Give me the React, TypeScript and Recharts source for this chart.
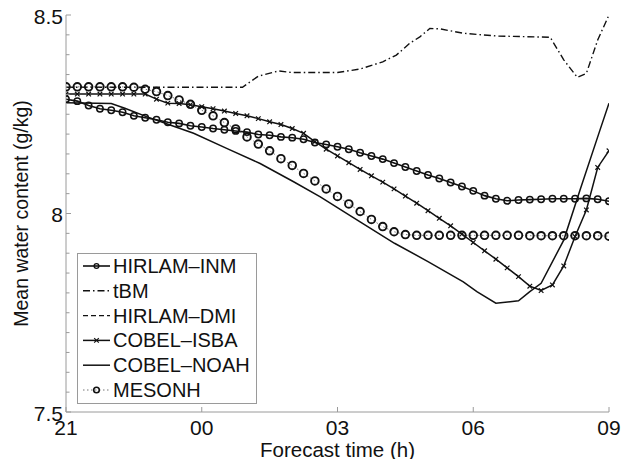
import React from 'react';
import { LineChart, Line, XAxis, YAxis } from 'recharts';

// Hours after 21 UTC, sampled every quarter hour
const quarterHours = [
  0, 0.25, 0.5, 0.75, 1, 1.25, 1.5, 1.75, 2, 2.25, 2.5, 2.75, 3, 3.25, 3.5, 3.75,
  4, 4.25, 4.5, 4.75, 5, 5.25, 5.5, 5.75, 6, 6.25, 6.5, 6.75, 7, 7.25, 7.5, 7.75,
  8, 8.25, 8.5, 8.75, 9, 9.25, 9.5, 9.75, 10, 10.25, 10.5, 10.75, 11, 11.25, 11.5, 11.75, 12,
];

const inmValues = [
  8.288, 8.283, 8.272, 8.264, 8.26, 8.255, 8.246, 8.241, 8.236, 8.23, 8.227, 8.221, 8.218,
  8.214, 8.211, 8.208, 8.205, 8.199, 8.197, 8.193, 8.191, 8.187, 8.179, 8.174, 8.168, 8.162,
  8.153, 8.145, 8.137, 8.127, 8.117, 8.107, 8.097, 8.088, 8.078, 8.068, 8.057, 8.045, 8.037,
  8.032, 8.034, 8.035, 8.036, 8.037, 8.037, 8.037, 8.038, 8.036, 8.031,
];

const isbaValues = [
  8.301, 8.301, 8.301, 8.301, 8.301, 8.301, 8.301, 8.301, 8.288, 8.278, 8.277, 8.274, 8.269,
  8.264, 8.258, 8.252, 8.246, 8.239, 8.231, 8.224, 8.214, 8.202, 8.181, 8.162, 8.145, 8.128,
  8.111, 8.095, 8.079, 8.062, 8.044, 8.026, 8.007, 7.988, 7.969, 7.948, 7.927, 7.906, 7.885,
  7.863, 7.841, 7.817, 7.806, 7.82, 7.868, 7.942, 8.009, 8.116, 8.158,
];

const mesonhValues = [
  8.319, 8.319, 8.319, 8.319, 8.319, 8.319, 8.318, 8.313, 8.307, 8.297, 8.286, 8.275, 8.26,
  8.246, 8.229, 8.213, 8.193, 8.175, 8.158, 8.138, 8.121, 8.101, 8.082, 8.062, 8.043, 8.024,
  8.005, 7.985, 7.967, 7.954, 7.947, 7.945, 7.945, 7.945, 7.945, 7.945, 7.945, 7.945, 7.945,
  7.945, 7.945, 7.944, 7.944, 7.944, 7.944, 7.944, 7.944, 7.944, 7.943,
];

const noahTimes = [0, 1, 1.3, 1.78, 2.3, 2.82, 3.55, 4.29, 5.03, 5.62, 6.5, 7.26, 8, 8.78, 9.08, 9.5, 10, 10.25, 10.5, 11, 11.36, 11.8, 12];
const noahValues = [8.279, 8.277, 8.265, 8.244, 8.223, 8.202, 8.164, 8.126, 8.08, 8.042, 7.979, 7.925, 7.879, 7.828, 7.803, 7.774, 7.78, 7.803, 7.824, 7.933, 8.059, 8.21, 8.278];

const tbmTimes = [0, 1, 2, 3, 3.9, 4.25, 4.7, 5, 6, 6.5, 7, 7.3, 7.6, 7.82, 8.04, 8.27, 8.78, 9.52, 10.7, 11, 11.3, 11.5, 11.75, 12];
const tbmValues = [8.318, 8.318, 8.318, 8.318, 8.318, 8.346, 8.359, 8.355, 8.355, 8.364, 8.382, 8.399, 8.429, 8.445, 8.466, 8.465, 8.454, 8.447, 8.444, 8.387, 8.343, 8.353, 8.437, 8.5];

const xTicks = [0, 3, 6, 9, 12];
const xTickLabels = ['21', '00', '03', '06', '09'];

const yTicks = [
  7.5, 7.55, 7.6, 7.65, 7.7, 7.75, 7.8, 7.85, 7.9, 7.95, 8, 8.05, 8.1, 8.15, 8.2, 8.25,
  8.3, 8.35, 8.4, 8.45, 8.5,
];
const yMajor = [7.5, 8, 8.5];
const yMajorLabels = ['7.5', '8', '8.5'];

type Pt = { t: number; v: number };
const zip = (ts: number[], vs: number[]): Pt[] => ts.map((t, i) => ({ t, v: vs[i] }));

const FONT = '"Liberation Sans", Arial, Helvetica, sans-serif';
const AXIS = '#9a9a9a';
const INK = '#111';

type Marker = 'circle' | 'bigcircle' | 'cross' | 'none';

interface SeriesDef {
  name: string;
  data: Pt[];
  dash?: string;
  stroke: string;
  width: number;
  marker: Marker;
}

const series: SeriesDef[] = [
  { name: 'HIRLAM–INM', data: zip(quarterHours, inmValues), stroke: INK, width: 1.6, marker: 'circle' },
  { name: 'tBM', data: zip(tbmTimes, tbmValues), dash: '7 3 1.5 3', stroke: INK, width: 1.4, marker: 'none' },
  { name: 'HIRLAM–DMI', data: [], dash: '5 3', stroke: INK, width: 1.4, marker: 'none' },
  { name: 'COBEL–ISBA', data: zip(quarterHours, isbaValues), stroke: INK, width: 1.5, marker: 'cross' },
  { name: 'COBEL–NOAH', data: zip(noahTimes, noahValues), stroke: INK, width: 1.5, marker: 'none' },
  { name: 'MESONH', data: zip(quarterHours, mesonhValues), dash: '1.5 2.5', stroke: '#777', width: 1, marker: 'bigcircle' },
];

const drawMarker = (m: Marker, cx: number, cy: number, key?: string) => {
  if (m === 'circle')
    return <circle key={key} cx={cx} cy={cy} r={3.2} fill="none" stroke={INK} strokeWidth={1.5} />;
  if (m === 'bigcircle')
    return <circle key={key} cx={cx} cy={cy} r={3.8} fill="none" stroke={INK} strokeWidth={1.9} />;
  if (m === 'cross')
    return (
      <path
        key={key}
        d={`M${cx - 2.3},${cy - 2.3}L${cx + 2.3},${cy + 2.3}M${cx - 2.3},${cy + 2.3}L${cx + 2.3},${cy - 2.3}`}
        stroke={INK}
        strokeWidth={1.2}
      />
    );
  return null;
};

const dotFor = (m: Marker) => {
  if (m === 'none') return false;
  return (p: any) => {
    if (p.cx == null || p.cy == null) return <g key={`e-${p.index}`} />;
    return drawMarker(m, p.cx, p.cy, `${m}-${p.index}`);
  };
};

// Inward tick marks every 0.05, labels on the half units only
const YTick = (props: any) => {
  const { x, y, payload } = props;
  const axisX = x + 4;
  const idx = yMajor.indexOf(payload.value);
  const major = idx >= 0;
  return (
    <g>
      <line x1={axisX} x2={axisX + (major ? 5 : 3.5)} y1={y} y2={y} stroke={AXIS} />
      {major && (
        <text x={x + 1} y={y + 1} textAnchor="end" dominantBaseline="central" fontSize={21} fontFamily={FONT} fill={INK}>
          {yMajorLabels[idx]}
        </text>
      )}
    </g>
  );
};

const XTick = (props: any) => {
  const { x, y, payload } = props;
  const axisY = y - 8;
  const idx = xTicks.indexOf(payload.value);
  return (
    <g>
      <line x1={x} x2={x} y1={axisY} y2={axisY - 5} stroke={AXIS} />
      <text x={x} y={y} dy="0.71em" textAnchor="middle" fontSize={21} fontFamily={FONT} fill={INK}>
        {xTickLabels[idx]}
      </text>
    </g>
  );
};

// Boxed key in the lower left corner of the plot
const LegendBox = () => {
  const w = 180;
  const rowH = 24.8;
  const h = 151;
  return (
    <svg width={w} height={h} style={{ display: 'block' }}>
      <rect x={0.5} y={0.5} width={w - 1} height={h - 1} fill="#fff" stroke={AXIS} />
      {series.map((s, i) => {
        const cy = 13 + i * rowH;
        return (
          <g key={s.name}>
            <line x1={6} x2={33} y1={cy} y2={cy} stroke={s.stroke} strokeWidth={s.width} strokeDasharray={s.dash} />
            {s.marker === 'circle' && <circle cx={19.5} cy={cy} r={2.4} fill="none" stroke={INK} strokeWidth={1.3} />}
            {s.marker === 'bigcircle' && <circle cx={19.5} cy={cy} r={2.8} fill="none" stroke={INK} strokeWidth={1.6} />}
            {s.marker === 'cross' && drawMarker('cross', 19.5, cy)}
            <text x={36} y={cy} dominantBaseline="central" fontSize={20} fontFamily={FONT} fill={INK}>
              {s.name}
            </text>
          </g>
        );
      })}
    </svg>
  );
};

export default function App() {
  return (
    <div style={{ position: 'absolute', left: 0, top: 0, width: 621, height: 459, background: '#fff' }}>
      <LineChart width={621} height={459} margin={{ top: 15, right: 12, bottom: 0, left: 8 }}>
        <XAxis
          type="number"
          dataKey="t"
          domain={[0, 12]}
          ticks={xTicks}
          allowDataOverflow
          height={47}
          tickSize={0}
          tickMargin={8}
          tickLine={false}
          axisLine={{ stroke: AXIS }}
          tick={<XTick />}
          interval={0}
          label={{
            content: (p: any) => {
              const vb = p.viewBox;
              return (
                <text x={vb.x + vb.width / 2} y={vb.y + 37} textAnchor="middle" dominantBaseline="central" fontSize={20.5} fontFamily={FONT} fill={INK}>
                  Forecast time (h)
                </text>
              );
            },
          }}
        />
        <YAxis
          type="number"
          dataKey="v"
          domain={[7.5, 8.5]}
          ticks={yTicks}
          allowDataOverflow
          width={58}
          tickSize={0}
          tickMargin={4}
          tickLine={false}
          axisLine={{ stroke: AXIS }}
          tick={<YTick />}
          interval={0}
          label={{
            content: (p: any) => {
              const vb = p.viewBox;
              const cx = vb.x + 13;
              const cy = vb.y + vb.height / 2;
              return (
                <text x={cx} y={cy} transform={`rotate(-90 ${cx} ${cy})`} textAnchor="middle" dominantBaseline="central" fontSize={19.5} fontFamily={FONT} fill={INK}>
                  Mean water content (g/kg)
                </text>
              );
            },
          }}
        />
        {series
          .filter((s) => s.data.length > 0)
          .map((s) => (
            <Line
              key={s.name}
              data={s.data}
              dataKey="v"
              name={s.name}
              type="linear"
              stroke={s.stroke}
              strokeWidth={s.width}
              strokeDasharray={s.dash}
              dot={dotFor(s.marker) as any}
              activeDot={false}
              isAnimationActive={false}
            />
          ))}
      </LineChart>
      <div style={{ position: 'absolute', left: 77, top: 253 }}>
        <LegendBox />
      </div>
    </div>
  );
}
